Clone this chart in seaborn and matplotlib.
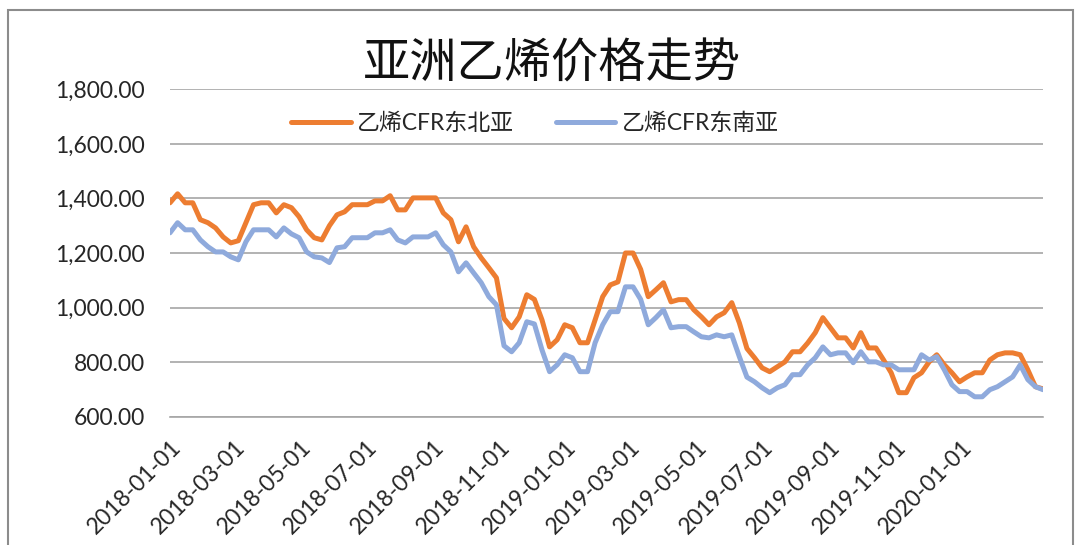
import pandas as pd
import matplotlib.pyplot as plt
import matplotlib.dates as mdates
import matplotlib.ticker as mticker
from matplotlib.patches import Rectangle
import seaborn as sns

# weekly prices (USD/t)
dates = pd.date_range('2018-01-01', periods=116, freq='7D')

ne_asia = [1384, 1417, 1384, 1384, 1322, 1311, 1292, 1259, 1237, 1245,
           1311, 1377, 1384, 1384, 1347, 1377, 1366, 1333, 1285, 1256,
           1248, 1300, 1340, 1351, 1377, 1377, 1377, 1391, 1391, 1410,
           1358, 1358, 1402, 1402, 1402, 1402, 1347, 1322, 1241, 1296,
           1223, 1182, 1146, 1109, 960, 926, 966, 1047, 1030, 955,
           856, 882, 937, 926, 871, 871, 955, 1040, 1083, 1094,
           1200, 1200, 1140, 1040, 1065, 1091, 1021, 1029, 1029, 992,
           966, 937, 966, 981, 1018, 944, 850, 816, 779, 765,
           783, 801, 838, 838, 870, 908, 963, 926, 889, 889,
           852, 908, 852, 852, 808, 761, 688, 688, 743, 761,
           801, 827, 790, 761, 728, 746, 761, 761, 808, 827,
           834, 834, 827, 772, 710, 702]

se_asia = [1274, 1311, 1285, 1285, 1248, 1223, 1204, 1204, 1186, 1175,
           1241, 1285, 1285, 1285, 1259, 1292, 1270, 1256, 1204, 1186,
           1182, 1165, 1219, 1223, 1256, 1256, 1256, 1274, 1274, 1285,
           1248, 1237, 1259, 1259, 1259, 1274, 1230, 1204, 1131, 1164,
           1127, 1091, 1040, 1010, 860, 838, 871, 948, 940, 845,
           765, 790, 827, 816, 765, 765, 871, 937, 985, 985,
           1076, 1076, 1030, 937, 963, 992, 926, 930, 930, 911,
           893, 889, 900, 893, 900, 820, 745, 728, 706, 688,
           706, 717, 754, 754, 790, 816, 856, 827, 834, 834,
           798, 838, 801, 801, 790, 790, 772, 772, 772, 827,
           808, 820, 772, 717, 692, 692, 673, 673, 699, 710,
           728, 746, 790, 736, 710, 699]

series_names = ['乙烯CFR东北亚', '乙烯CFR东南亚']
colors = ['#ED7D31', '#8FAADC']
y_ticks = [600, 800, 1000, 1200, 1400, 1600, 1800]
x_ticks = pd.date_range('2018-01-01', '2020-01-01', freq='2MS')

df = pd.DataFrame({'date': list(dates) * 2,
                   'price': ne_asia + se_asia,
                   'series': [series_names[0]] * len(dates) + [series_names[1]] * len(dates)})

sns.set_style('white')
plt.rcParams['font.family'] = ['Lato', 'Noto Sans CJK SC', 'DejaVu Sans']

fig = plt.figure(figsize=(10.78, 5.45), dpi=100)
ax = fig.add_axes([170 / 1078, 1 - 416.7 / 545, (1043 - 170) / 1078, (416.7 - 89.3) / 545])

sns.lineplot(data=df, x='date', y='price', hue='series', palette=dict(zip(series_names, colors)),
             linewidth=3.6, ax=ax, legend=True)

ax.set_xlim(dates[0], dates[-1])
ax.set_ylim(600, 1800)
ax.set_yticks(y_ticks)
ax.yaxis.set_major_formatter(mticker.StrMethodFormatter('{x:,.2f}'))
ax.set_xticks(x_ticks)
ax.xaxis.set_major_formatter(mdates.DateFormatter('%Y-%m-%d'))
ax.grid(axis='y', color='#a6a6a6', linewidth=1.2)
ax.set_axisbelow(True)
for s in ['top', 'right', 'left']:
    ax.spines[s].set_visible(False)
ax.spines['bottom'].set_color('#a6a6a6')
ax.spines['bottom'].set_linewidth(1.2)
ax.tick_params(axis='y', length=0, pad=18, labelsize=16.5, labelcolor='#262626')
ax.tick_params(axis='x', length=0, pad=14, labelsize=16.5, labelcolor='#262626')
plt.setp(ax.get_xticklabels(), rotation=45, ha='right', rotation_mode='anchor')
ax.set_xlabel('')
ax.set_ylabel('')

handles, labels = ax.get_legend_handles_labels()
ax.get_legend().remove()
fig.legend(handles, labels, loc='center', bbox_to_anchor=(535 / 1078, 1 - 123 / 545), ncol=2,
           frameon=False, fontsize=16.5, handlelength=2.6, handletextpad=0.3, columnspacing=1.8)

fig.text(552 / 1078, 1 - 63 / 545, '亚洲乙烯价格走势', ha='center', va='center',
         fontsize=34, color='#111111')

fig.patches.append(Rectangle((8 / 1078, -0.05), (1073 - 8) / 1078, 1.05 - 10 / 545,
                             transform=fig.transFigure, fill=False, edgecolor='#8c8c8c', linewidth=1.5))

fig.savefig('out.png', dpi=100)
